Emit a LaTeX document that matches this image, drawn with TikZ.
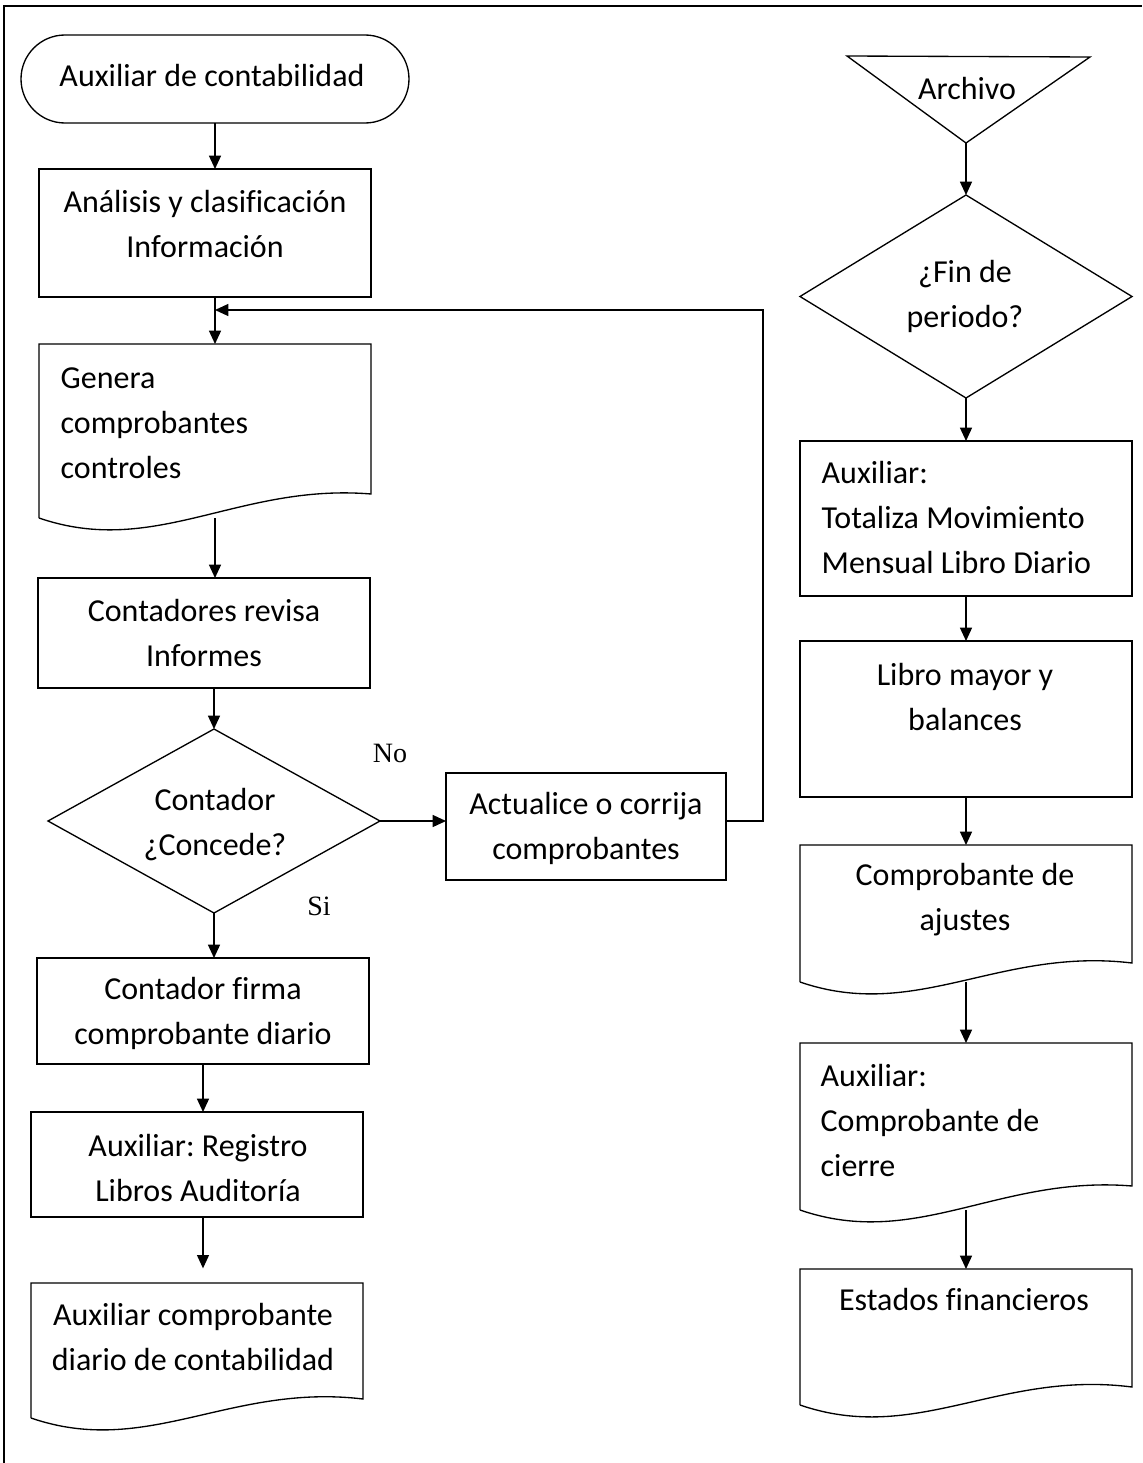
\documentclass[tikz,border=0pt]{standalone}
\usepackage{fontspec}
\setmainfont{Carlito}[Ligatures=NoCommon]
\newfontfamily\labelfont{Liberation Serif}
\usetikzlibrary{arrows.meta,fit,calc}
\frenchspacing

% document symbol: name, left x, right x, top y, bottom-left y, bottom-right y
\newcommand\docbox[6]{%
  \node[frame, fit={(#2,#4)(#3,#5)}] (#1) {};
  \draw (#2,#5) -- (#2,#4) -- (#3,#4) -- (#3,#6)
    .. controls ({#2+0.6*(#3-#2)},{#5-35}) and ({#2+0.35*(#3-#2)},{#5+40}) .. (#2,#5);
}
% decision symbol: name, centre x, centre y, half width, half height
\newcommand\decision[5]{%
  \node[frame, fit={({#2-#4},{#3-#5})({#2+#4},{#3+#5})}] (#1) {};
  \draw (#1.north) -- (#1.east) -- (#1.south) -- (#1.west) -- cycle;
}

\begin{document}
\begin{tikzpicture}[x=0.75pt,y=-0.75pt,
  line width=1pt,
  frame/.style={inner sep=0pt, outer sep=0pt},
  procbox/.style={frame, draw},
  arr/.style={-{Triangle[length=10pt,width=9pt]}, line width=1pt},
  txt/.style={inner sep=0pt, font=\fontsize{24}{33.75}\selectfont, align=center},
  txtl/.style={txt, align=left, anchor=west},
  branch/.style={inner sep=0pt, font=\labelfont\fontsize{21}{24}\selectfont}]

\useasboundingbox (0,0) rectangle (1142,1463);
\draw (4,1463) -- (4,6) -- (1142,6);

% ---------- left column ----------
\node[procbox, rounded corners=33pt, fit={(21,35)(409,123)}] (term) {};
\node[txt] (termtxt) at (212,76) {Auxiliar de contabilidad};

\node[procbox, fit={(39,169)(371,297)}] (b1) {};
\node[txt] (b1txt) at (205,224) {Análisis y clasificación\\Información};

\docbox{d1}{39}{371}{344}{518}{494}
\node[txtl] (d1txt) at (60,423) {Genera\\comprobantes\\controles};

\node[procbox, fit={(38,578)(370,688)}] (b2) {};
\node[txt] (b2txt) at (204,633) {Contadores revisa\\Informes};

\decision{dia1}{214}{821}{166}{92}
\node[txt] (dia1txt) at (215,825) {Contador\\¿Concede?};

\node[procbox, fit={(446,773)(726,880)}] (b3) {};
\node[txt] (b3txt) at (586,828) {Actualice o corrija\\comprobantes};

\node[procbox, fit={(37,958)(369,1064)}] (b4) {};
\node[txt] (b4txt) at (203,1013) {Contador firma\\comprobante diario};

\node[procbox, fit={(31,1112)(363,1217)}] (b5) {};
\node[txt] (b5txt) at (198,1168) {Auxiliar: Registro\\Libros Auditoría};

\docbox{d2}{31}{363}{1283}{1418}{1399}
\node[txt] (d2txt) at (193,1337) {Auxiliar comprobante\\diario de contabilidad};

\node[branch] (no) at (390,753) {No};
\node[branch] (si) at (319,906) {Si};

% ---------- right column ----------
\node[frame, fit={(847,56)(1090,143)}] (tri) {};
\draw (847,56) -- (1090,57) -- (966,143) -- cycle;
\node[txt] (tritxt) at (967,88) {Archivo};

\decision{dia2}{966}{296.5}{166}{101.5}
\node[txt] (dia2txt) at (965,296) {¿Fin de\\periodo?};

\node[procbox, fit={(800,441)(1132,596)}] (b6) {};
\node[txtl] (b6txt) at (821,518) {Auxiliar:\\Totaliza Movimiento\\Mensual Libro Diario};

\node[procbox, fit={(800,641)(1132,797)}] (b7) {};
\node[txt] (b7txt) at (965,697) {Libro mayor y\\balances};

\docbox{d3}{800}{1132}{845}{982}{963}
\node[txt] (d3txt) at (965,900) {Comprobante de\\ajustes};

\docbox{d4}{800}{1132}{1043}{1210}{1186}
\node[txtl] (d4txt) at (820,1120) {Auxiliar:\\Comprobante de\\cierre};

\docbox{d5}{800}{1132}{1269}{1405}{1387}
\node[txt] (d5txt) at (964,1299) {Estados financieros};

% ---------- connectors ----------
\coordinate (loopin) at ($(term.south |- b1.south)+(0,13)$);
\draw[arr] (term.south) -- (term.south |- b1.north);
\draw[arr] (term.south |- b1.south) -- (term.south |- d1.north);
\draw[arr] (term.south |- d1.south) -- (term.south |- b2.north);
\draw[arr] (dia1.north |- b2.south) -- (dia1.north);
\draw[arr] (dia1.south) -- (dia1.south |- b4.north);
\draw[arr] (b4.south) -- (b4.south |- b5.north);
\draw[arr, shorten >=11pt] (b4.south |- b5.south) -- (b4.south |- d2.north);
\draw[arr] (dia1.east) -- (dia1.east -| b3.west);
\draw[arr] (dia1.east -| b3.east) -- ++(37,0) |- (loopin);

\draw[arr] (dia2.north |- tri.south) -- (dia2.north);
\draw[arr] (dia2.south) -- (dia2.south |- b6.north);
\draw[arr] (b6.south) -- (b7.north);
\draw[arr] (b7.south) -- (b7.south |- d3.north);
\draw[arr] (d3.south) -- (d3.south |- d4.north);
\draw[arr] (d4.south) -- (d4.south |- d5.north);
\end{tikzpicture}
\end{document}
